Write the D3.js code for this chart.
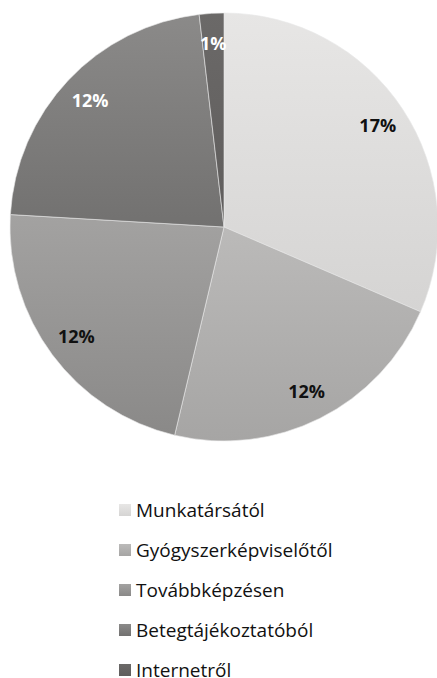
<!DOCTYPE html>
<html>
<head>
<meta charset="utf-8">
<script src="https://cdn.jsdelivr.net/npm/d3@7"></script>
<style>
  body { margin: 0; background: #fff; }
  svg { display: block; font-family: "Open Sans", sans-serif; }
</style>
</head>
<body>
<svg id="chart"></svg>
<script>
// chart data
const categories = ["Munkatársától", "Gyógyszerképviselőtől", "Továbbképzésen", "Betegtájékoztatóból", "Internetről"];
const values = [17, 12, 12, 12, 1];
const labels = ["17%", "12%", "12%", "12%", "1%"];
const topColors = ["#e7e6e5", "#bbbab9", "#a3a2a1", "#8b8a89", "#6b6968"];
const bottomColors = ["#d5d4d3", "#a6a5a4", "#8a8988", "#727170", "#5f5d5c"];
const labelColors = ["#111", "#111", "#111", "#fff", "#fff"];

const width = 437;
const height = 678;
const cx = 224, cy = 227, radius = 214;

const svg = d3.select("#chart")
    .attr("width", width)
    .attr("height", height);

const defs = svg.append("defs");
categories.forEach((c, i) => {
    const g = defs.append("linearGradient")
        .attr("id", "grad" + i)
        .attr("x1", 0).attr("y1", 0)
        .attr("x2", 0).attr("y2", 1);
    g.append("stop").attr("offset", "0%").attr("stop-color", topColors[i]);
    g.append("stop").attr("offset", "100%").attr("stop-color", bottomColors[i]);
});

const data = categories.map((c, i) => ({ name: c, value: values[i], label: labels[i], i: i }));

const pie = d3.pie()
    .value(d => d.value)
    .sort(null);

const arc = d3.arc()
    .innerRadius(0)
    .outerRadius(radius);

const labelArc = d3.arc()
    .innerRadius(radius * 0.86)
    .outerRadius(radius * 0.86);

const g = svg.append("g")
    .attr("transform", `translate(${cx}, ${cy})`);

const arcs = pie(data);

g.selectAll(".slice")
    .data(arcs)
    .enter()
    .append("path")
    .attr("class", "slice")
    .attr("d", arc)
    .attr("fill", d => `url(#grad${d.data.i})`)
    .attr("stroke", "#e8e8e8")
    .attr("stroke-width", 0.6);

g.selectAll(".label")
    .data(arcs)
    .enter()
    .append("text")
    .attr("class", "label")
    .attr("transform", d => `translate(${labelArc.centroid(d)})`)
    .attr("text-anchor", "middle")
    .attr("dy", "0.35em")
    .attr("font-size", 18)
    .attr("font-weight", "bold")
    .attr("fill", d => labelColors[d.data.i])
    .text(d => d.data.label);

// legend
const legend = svg.append("g")
    .attr("transform", "translate(119, 504)");

const rows = legend.selectAll(".row")
    .data(data)
    .enter()
    .append("g")
    .attr("class", "row")
    .attr("transform", d => `translate(0, ${d.i * 40})`);

rows.append("rect")
    .attr("width", 12)
    .attr("height", 12)
    .attr("fill", d => `url(#grad${d.i})`);

rows.append("text")
    .attr("x", 17)
    .attr("y", 12.5)
    .attr("font-size", 19)
    .attr("fill", "#111")
    .text(d => d.name);
</script>
</body>
</html>
